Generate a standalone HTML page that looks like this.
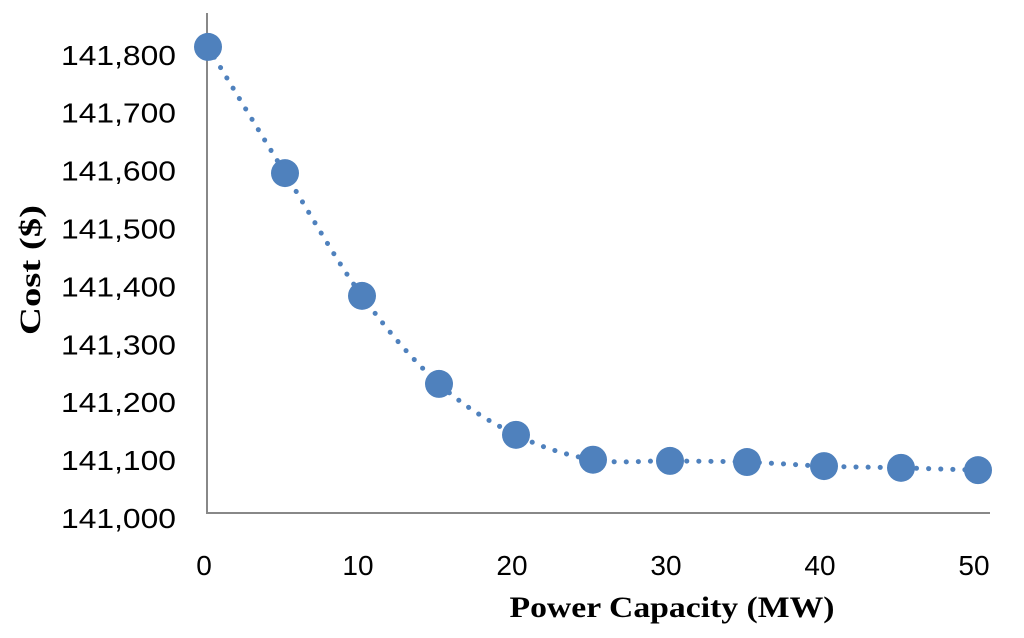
<!DOCTYPE html>
<html><head><meta charset="utf-8"><style>
body{margin:0;background:#fff}
svg{display:block}
.tk{font-family:"Liberation Sans",sans-serif;font-size:28px;fill:#000}
.tt{font-family:"Liberation Serif",serif;font-size:30px;font-weight:bold;fill:#000}
</style></head><body>
<svg id="c" width="1024" height="638" viewBox="0 0 1024 638">
<g id="g"></g>
<text class="tt" x="672" y="617" text-anchor="middle" textLength="325" lengthAdjust="spacingAndGlyphs">Power Capacity (MW)</text>
<text class="tt" transform="translate(40,270) rotate(-90)" text-anchor="middle" textLength="130" lengthAdjust="spacingAndGlyphs">Cost ($)</text>
</svg>
<script>
const xValues=[0,5,10,15,20,25,30,35,40,45,50];
const costValues=[141805,141587,141375,141223,141135,141092,141090,141088,141081,141078,141074];
const xTicks=[0,10,20,30,40,50];
const yTicks=[141000,141100,141200,141300,141400,141500,141600,141700,141800];
const xs=v=>208+v*15.4;
const ys=v=>513-(v-141000)*0.579;
const NS="http://www.w3.org/2000/svg";
const g=document.getElementById('g');
function mk(t,a){const e=document.createElementNS(NS,t);for(const k in a)e.setAttribute(k,a[k]);g.appendChild(e);return e;}
let e=mk('line',{x1:207,y1:13,x2:207,y2:513,stroke:'#888','stroke-width':2});


e=mk('line',{x1:206,y1:513,x2:990,y2:513,stroke:'#888','stroke-width':2});


yTicks.forEach(v=>{const t=mk('text',{x:176,y:ys(v)+15,class:'tk','text-anchor':'end',textLength:115,lengthAdjust:'spacingAndGlyphs'});t.textContent=v.toLocaleString('en-US');

});
xTicks.forEach(v=>{const t=mk('text',{x:xs(v)-4,y:575,class:'tk','text-anchor':'middle'});t.textContent=v;

});
const P=xValues.map((x,i)=>[xs(x),ys(costValues[i])]);
let d='M'+P[0][0]+','+P[0][1];
for(let i=0;i<P.length-1;i++){const p0=P[i-1]||P[i],p1=P[i],p2=P[i+1],p3=P[i+2]||p2;
d+=` C${p1[0]+(p2[0]-p0[0])/6},${p1[1]+(p2[1]-p0[1])/6} ${p2[0]-(p3[0]-p1[0])/6},${p2[1]-(p3[1]-p1[1])/6} ${p2[0]},${p2[1]}`;}
e=mk('path',{d:d,fill:'none',stroke:'#4f81bd','stroke-width':5,'stroke-linecap':'round','stroke-dasharray':'0.1 12'});


P.forEach(p=>{const c=mk('circle',{cx:p[0],cy:p[1],r:14,fill:'#4f81bd'});

});
</script>
</body></html>
